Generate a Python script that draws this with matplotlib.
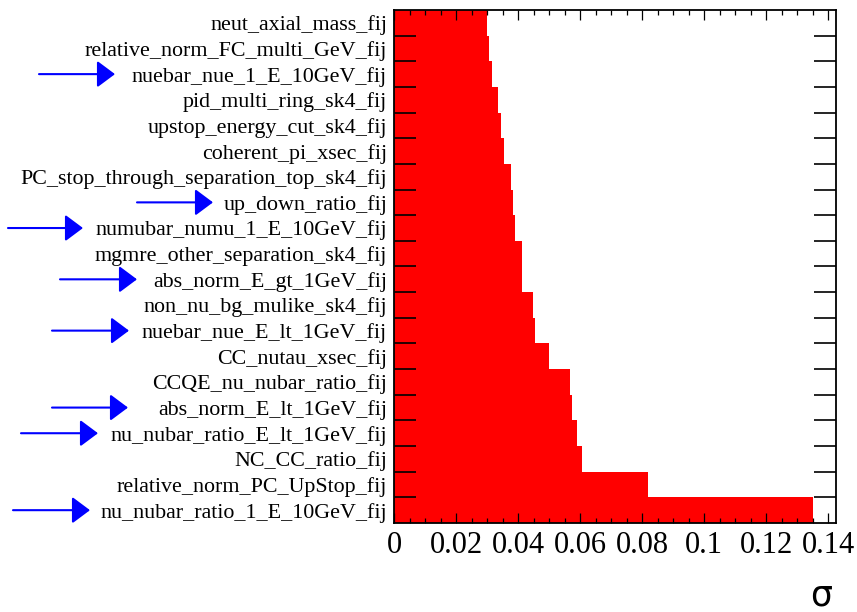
import matplotlib
matplotlib.use("Agg")
import matplotlib.pyplot as plt
import matplotlib.transforms as mtransforms
from matplotlib.ticker import MultipleLocator, FixedLocator
import numpy as np

# Systematic parameters, listed from top to bottom
params = [
    "neut_axial_mass_fij",
    "relative_norm_FC_multi_GeV_fij",
    "nuebar_nue_1_E_10GeV_fij",
    "pid_multi_ring_sk4_fij",
    "upstop_energy_cut_sk4_fij",
    "coherent_pi_xsec_fij",
    "PC_stop_through_separation_top_sk4_fij",
    "up_down_ratio_fij",
    "numubar_numu_1_E_10GeV_fij",
    "mgmre_other_separation_sk4_fij",
    "abs_norm_E_gt_1GeV_fij",
    "non_nu_bg_mulike_sk4_fij",
    "nuebar_nue_E_lt_1GeV_fij",
    "CC_nutau_xsec_fij",
    "CCQE_nu_nubar_ratio_fij",
    "abs_norm_E_lt_1GeV_fij",
    "nu_nubar_ratio_E_lt_1GeV_fij",
    "NC_CC_ratio_fij",
    "relative_norm_PC_UpStop_fij",
    "nu_nubar_ratio_1_E_10GeV_fij",
]

# Fitted 1-sigma widths
sigma = [
    0.0301, 0.0307, 0.0317, 0.0335, 0.0344, 0.0355, 0.0377, 0.0383,
    0.0391, 0.0412, 0.0413, 0.0449, 0.0454, 0.0501, 0.0569, 0.0574,
    0.0589, 0.0606, 0.0820, 0.1351,
]

# Parameters singled out with arrows
highlighted = [
    "nuebar_nue_1_E_10GeV_fij",
    "up_down_ratio_fij",
    "numubar_numu_1_E_10GeV_fij",
    "abs_norm_E_gt_1GeV_fij",
    "nuebar_nue_E_lt_1GeV_fij",
    "abs_norm_E_lt_1GeV_fij",
    "nu_nubar_ratio_E_lt_1GeV_fij",
    "nu_nubar_ratio_1_E_10GeV_fij",
]
# arrow start / tip, horizontal pixel positions
arrow_x = {
    "nuebar_nue_1_E_10GeV_fij": (39, 115),
    "up_down_ratio_fij": (137, 213),
    "numubar_numu_1_E_10GeV_fij": (8, 83),
    "abs_norm_E_gt_1GeV_fij": (60, 137),
    "nuebar_nue_E_lt_1GeV_fij": (52, 129),
    "abs_norm_E_lt_1GeV_fij": (52, 128),
    "nu_nubar_ratio_E_lt_1GeV_fij": (21, 98),
    "nu_nubar_ratio_1_E_10GeV_fij": (13, 90),
}

W, H = 857, 612
fig = plt.figure(figsize=(W / 100, H / 100), dpi=100)
ax = fig.add_axes([394 / W, 1 - 523 / H, 442 / W, 513 / H])

ypos = np.arange(len(params))
ax.barh(ypos, sigma, height=1.0, color="#ff0000", edgecolor="none")

ax.set_xlim(0, 0.1425)
ax.set_ylim(len(params) - 0.5, -0.5)

serif = "Liberation Serif"

# x axis: ROOT-style inward ticks on both sides
ax.xaxis.set_major_locator(MultipleLocator(0.02))
ax.xaxis.set_minor_locator(MultipleLocator(0.005))
ax.set_xticks(np.arange(0, 0.141, 0.02))
ax.set_xticklabels(["0", "0.02", "0.04", "0.06", "0.08", "0.1", "0.12", "0.14"],
                   fontfamily=serif, fontsize=22)
ax.tick_params(axis="x", which="major", direction="in", length=7.2, width=0.9,
               top=True, bottom=True, pad=6)
ax.tick_params(axis="x", which="minor", direction="in", length=3.6, width=0.9,
               top=True, bottom=True)

# y axis: labels at bin centres, ticks at bin edges
ax.set_yticks(ypos)
ax.set_yticklabels(params, fontfamily=serif, fontsize=15.8)
ax.yaxis.set_minor_locator(FixedLocator(np.arange(0.5, len(params) - 1, 1.0)))
ax.tick_params(axis="y", which="major", length=0, pad=5)
ax.tick_params(axis="y", which="minor", direction="in", length=15.8, width=1.2,
               left=True, right=True)

for s in ax.spines.values():
    s.set_linewidth(1.3)
    s.set_color("black")

fig.text(821 / W, 1 - 596 / H, "σ", fontsize=25, ha="center", va="center",
         family="DejaVu Sans")

# arrows pointing at selected parameters
trans = mtransforms.blended_transform_factory(fig.transFigure, ax.transData)
for name in highlighted:
    y = params.index(name)
    x0, x1 = arrow_x[name]
    ax.annotate("", xy=(x1 / W, y), xycoords=trans,
                xytext=(x0 / W, y), textcoords=trans,
                annotation_clip=False,
                arrowprops=dict(arrowstyle="-|>,head_length=11,head_width=8.2",
                                mutation_scale=1, color="#0000ff", lw=1.5,
                                shrinkA=0, shrinkB=0))

fig.savefig("out.png", dpi=100)
